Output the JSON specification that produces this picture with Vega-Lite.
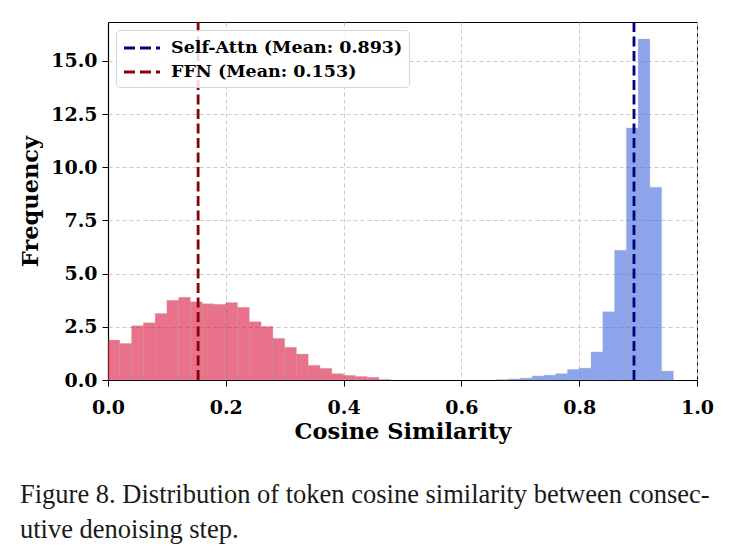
{
  "$schema": "https://vega.github.io/schema/vega-lite/v6.json",
  "width": 589,
  "height": 358,
  "autosize": "none",
  "padding": {"left": 108, "top": 22, "right": 43, "bottom": 180},
  "background": "white",
  "title": {
    "text": ["Figure 8.  Distribution of token cosine similarity between consec-", "utive denoising step."],
    "orient": "bottom",
    "anchor": "start",
    "frame": "group",
    "dx": -88,
    "offset": 39,
    "font": "Liberation Serif",
    "fontSize": 26.5,
    "fontWeight": "normal",
    "color": "#1a1a1a",
    "lineHeight": 35
  },
  "datasets": {
    "hist": [
      {"series": "FFN", "x0": 0.00, "x1": 0.02, "freq": 1.88},
      {"series": "FFN", "x0": 0.02, "x1": 0.04, "freq": 1.72},
      {"series": "FFN", "x0": 0.04, "x1": 0.06, "freq": 2.55},
      {"series": "FFN", "x0": 0.06, "x1": 0.08, "freq": 2.69},
      {"series": "FFN", "x0": 0.08, "x1": 0.10, "freq": 3.13},
      {"series": "FFN", "x0": 0.10, "x1": 0.12, "freq": 3.75},
      {"series": "FFN", "x0": 0.12, "x1": 0.14, "freq": 3.89},
      {"series": "FFN", "x0": 0.14, "x1": 0.16, "freq": 3.68},
      {"series": "FFN", "x0": 0.16, "x1": 0.18, "freq": 3.59},
      {"series": "FFN", "x0": 0.18, "x1": 0.20, "freq": 3.56},
      {"series": "FFN", "x0": 0.20, "x1": 0.22, "freq": 3.64},
      {"series": "FFN", "x0": 0.22, "x1": 0.24, "freq": 3.42},
      {"series": "FFN", "x0": 0.24, "x1": 0.26, "freq": 2.74},
      {"series": "FFN", "x0": 0.26, "x1": 0.28, "freq": 2.52},
      {"series": "FFN", "x0": 0.28, "x1": 0.30, "freq": 1.96},
      {"series": "FFN", "x0": 0.30, "x1": 0.32, "freq": 1.54},
      {"series": "FFN", "x0": 0.32, "x1": 0.34, "freq": 1.22},
      {"series": "FFN", "x0": 0.34, "x1": 0.36, "freq": 0.69},
      {"series": "FFN", "x0": 0.36, "x1": 0.38, "freq": 0.55},
      {"series": "FFN", "x0": 0.38, "x1": 0.40, "freq": 0.30},
      {"series": "FFN", "x0": 0.40, "x1": 0.42, "freq": 0.22},
      {"series": "FFN", "x0": 0.42, "x1": 0.44, "freq": 0.17},
      {"series": "FFN", "x0": 0.44, "x1": 0.46, "freq": 0.13},
      {"series": "FFN", "x0": 0.46, "x1": 0.48, "freq": 0.03},
      {"series": "Self-Attn", "x0": 0.66, "x1": 0.68, "freq": 0.02},
      {"series": "Self-Attn", "x0": 0.68, "x1": 0.70, "freq": 0.05},
      {"series": "Self-Attn", "x0": 0.70, "x1": 0.72, "freq": 0.09},
      {"series": "Self-Attn", "x0": 0.72, "x1": 0.74, "freq": 0.19},
      {"series": "Self-Attn", "x0": 0.74, "x1": 0.76, "freq": 0.23},
      {"series": "Self-Attn", "x0": 0.76, "x1": 0.78, "freq": 0.30},
      {"series": "Self-Attn", "x0": 0.78, "x1": 0.80, "freq": 0.50},
      {"series": "Self-Attn", "x0": 0.80, "x1": 0.82, "freq": 0.56},
      {"series": "Self-Attn", "x0": 0.82, "x1": 0.84, "freq": 1.32},
      {"series": "Self-Attn", "x0": 0.84, "x1": 0.86, "freq": 3.21},
      {"series": "Self-Attn", "x0": 0.86, "x1": 0.88, "freq": 6.10},
      {"series": "Self-Attn", "x0": 0.88, "x1": 0.90, "freq": 11.85},
      {"series": "Self-Attn", "x0": 0.90, "x1": 0.92, "freq": 16.03},
      {"series": "Self-Attn", "x0": 0.92, "x1": 0.94, "freq": 9.06},
      {"series": "Self-Attn", "x0": 0.94, "x1": 0.96, "freq": 0.42}
    ],
    "means": [
      {"label": "Self-Attn (Mean: 0.893)", "mean": 0.893},
      {"label": "FFN (Mean: 0.153)", "mean": 0.153}
    ]
  },
  "layer": [
    {
      "data": {"name": "hist"},
      "mark": {"type": "rect", "opacity": 0.6, "stroke": "#888", "strokeWidth": 0.6, "strokeOpacity": 0.5},
      "encoding": {
        "x": {
          "field": "x0", "type": "quantitative",
          "scale": {"domain": [0, 1], "nice": false, "zero": false},
          "axis": {
            "title": "Cosine Similarity",
            "values": [0, 0.2, 0.4, 0.6, 0.8, 1.0],
            "format": ".1f",
            "labelFlush": false,
            "labelPadding": 12,
            "titlePadding": 3
          }
        },
        "x2": {"field": "x1"},
        "y": {
          "field": "freq", "type": "quantitative",
          "scale": {"domain": [0, 16.83], "nice": false},
          "axis": {
            "title": "Frequency",
            "values": [0, 2.5, 5, 7.5, 10, 12.5, 15],
            "format": ".1f",
            "labelFlush": false,
            "labelPadding": 5,
            "titlePadding": 8
          }
        },
        "y2": {"datum": 0},
        "fill": {
          "field": "series", "type": "nominal",
          "scale": {"domain": ["FFN", "Self-Attn"], "range": ["crimson", "royalblue"]},
          "legend": null
        }
      }
    },
    {
      "data": {"name": "means"},
      "mark": {"type": "rule", "strokeWidth": 2.8, "strokeDash": [10, 4.5]},
      "encoding": {
        "x": {"field": "mean", "type": "quantitative"},
        "stroke": {
          "field": "label", "type": "nominal",
          "scale": {
            "domain": ["Self-Attn (Mean: 0.893)", "FFN (Mean: 0.153)"],
            "range": ["#000080", "#8B0000"]
          },
          "legend": {
            "title": null,
            "orient": "top-left",
            "offset": 8,
            "symbolType": "M-1,0H2.6",
            "symbolSize": 400,
            "symbolStrokeWidth": 3,
            "symbolDash": [11, 5],
            "labelFont": "DejaVu Serif",
            "labelFontWeight": "bold",
            "labelFontSize": 17.5,
            "labelColor": "black",
            "labelLimit": 0,
            "labelOffset": 25.5,
            "rowPadding": 4,
            "padding": 6.5,
            "fillColor": "rgba(255,255,255,0.85)",
            "strokeColor": "#d6d6d6",
            "cornerRadius": 4
          }
        }
      }
    }
  ],
  "config": {
    "view": {"stroke": "black", "strokeWidth": 1},
    "axis": {
      "domainColor": "black",
      "domainWidth": 1.2,
      "tickColor": "black",
      "tickSize": 6,
      "tickWidth": 1,
      "labelFont": "DejaVu Serif",
      "labelFontWeight": "bold",
      "labelFontSize": 19,
      "labelColor": "black",
      "titleFont": "DejaVu Serif",
      "titleFontWeight": "bold",
      "titleFontSize": 22.5,
      "titleColor": "black",
      "grid": true,
      "gridColor": "#c4c4c4",
      "gridDash": [4, 3],
      "gridWidth": 0.9
    }
  }
}
